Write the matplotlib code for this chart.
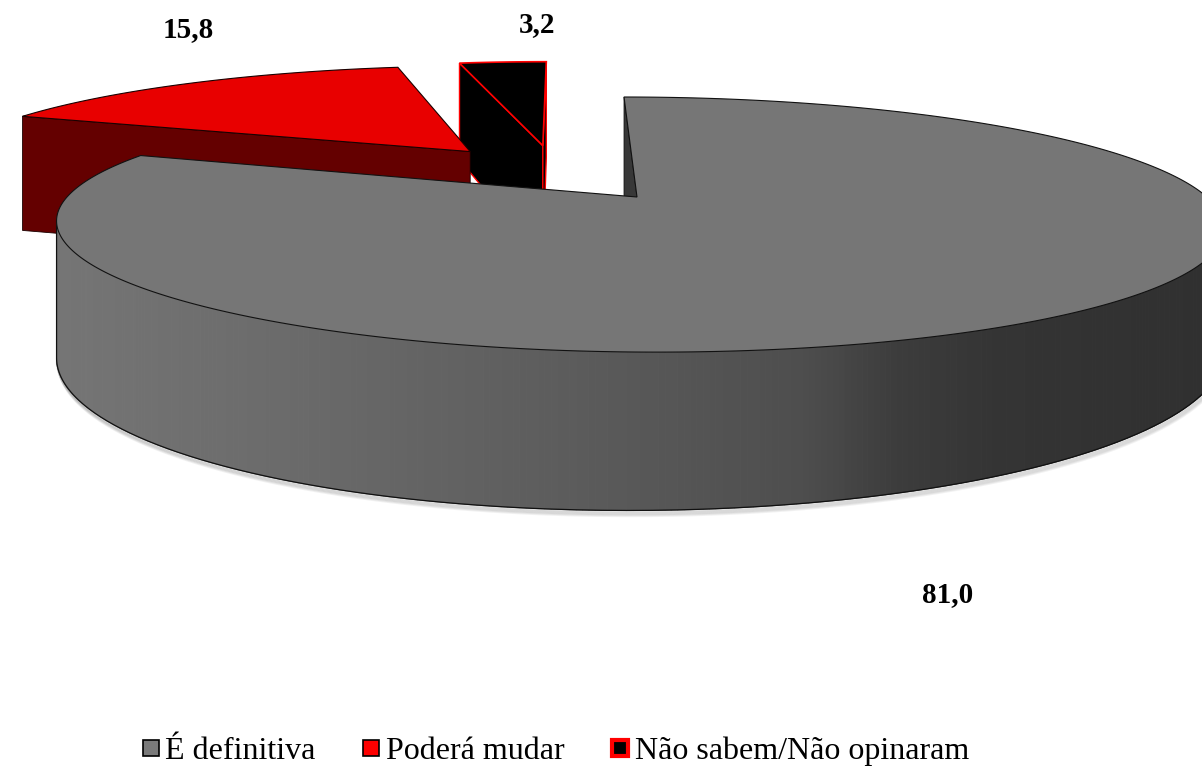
import numpy as np
import matplotlib
matplotlib.use("Agg")
import matplotlib.pyplot as plt
from matplotlib.patches import Polygon
from matplotlib.lines import Line2D

# ---------------- data ----------------
categories = ["É definitiva", "Poderá mudar", "Não sabem/Não opinaram"]
values = [81.0, 15.8, 3.2]
value_labels = ["81,0", "15,8", "3,2"]

# ---------------- styles ----------------
top_colors = ["#767676", "#E80000", "#000000"]
side_colors = [None, "#640000", "#000000"]      # None -> gradient
radial_colors = ["#383838", "#640000", "#000000"]
edge_colors = ["#111111", "#1a0000", "#FF0000"]
legend_face = ["#7a7a7a", "#FF0000", "#000000"]
legend_edge = ["#000000", "#000000", "#FF0000"]
legend_mew = [1.2, 1.2, 3.0]

grad_x = [60, 300, 550, 800, 900, 1000, 1210]
grad_v = [0x75, 0x6a, 0x5d, 0x4e, 0x3c, 0x34, 0x30]

W, H = 1202, 771
fig = plt.figure(figsize=(W / 100, H / 100), dpi=100)
ax = fig.add_axes([0, 0, 1, 1])
ax.set_xlim(0, W)
ax.set_ylim(H, 0)
ax.axis("off")

# ---------------- 3D projection ----------------
CX, CY, VX = 637.0, 197.0, 564.0
A, B, K, C, M = 570.0, 121.6, 0.216, 124.0, 0.06
EXPLODE = 0.255


def proj(X, Y, d):
    X = np.asarray(X, float)
    Y = np.asarray(Y, float)
    s = 1.0 / (1.0 + K * Y)
    sx = VX + (CX - VX + A * X) * s
    sy = CY + (-B * Y + d * C * (1.0 - M * X)) * s
    return np.column_stack([np.atleast_1d(sx), np.atleast_1d(sy)])


def area(p):
    x, y = p[:, 0], p[:, 1]
    return 0.5 * np.sum(x * np.roll(y, -1) - np.roll(x, -1) * y)


vals = np.array(values, float)
bounds = np.concatenate([[0.0], np.cumsum(vals / vals.sum())]) * 2 * np.pi
mids = 0.5 * (bounds[:-1] + bounds[1:])
units = np.column_stack([np.sin(mids), np.cos(mids)])
offsets = EXPLODE * (units - units[0])   # view centred on first slice's apex


def grey_at(x):
    v = np.interp(x, grad_x, grad_v) / 255.0
    return (v, v, v)


# draw order: farthest slice first
depth = [offsets[i, 1] + np.cos(mids[i]) * 0.5 for i in range(len(vals))]
order = np.argsort(depth)[::-1]

for i in order:
    t1, t2 = bounds[i], bounds[i + 1]
    n = max(12, int(np.degrees(t2 - t1) * 2))
    th = np.linspace(t1, t2, n)
    ox, oy = offsets[i]
    X = np.sin(th) + ox
    Y = np.cos(th) + oy
    topA = proj(X, Y, 0)
    botA = proj(X, Y, 1)
    apT = proj(ox, oy, 0)[0]
    apB = proj(ox, oy, 1)[0]
    ec = edge_colors[i]

    # radial faces
    q1 = np.array([apT, topA[0], botA[0], apB])
    if area(q1) < 0:
        ax.add_patch(Polygon(q1, closed=True, facecolor=radial_colors[i],
                             edgecolor=ec, lw=1.0 if i == 2 else 0.6, zorder=2))
    q2 = np.array([topA[-1], apT, apB, botA[-1]])
    if area(q2) < 0:
        ax.add_patch(Polygon(q2, closed=True, facecolor=radial_colors[i],
                             edgecolor=ec, lw=1.0 if i == 2 else 0.6, zorder=2))

    # outer curved side
    vis = []
    for j in range(n - 1):
        q = np.array([topA[j], topA[j + 1], botA[j + 1], botA[j]])
        vis.append(area(q) < 0)
    vis = np.array(vis)
    if vis.any():
        idx = np.where(vis)[0]
        j0, j1 = idx.min(), idx.max() + 1
        # soft shadow under the bottom edge
        bpts = botA[j0:j1 + 1]
        for k in range(1, 7):
            ax.plot(bpts[:, 0] + 0.3 * k, bpts[:, 1] + k * 0.9,
                    color="#000000", alpha=0.05, lw=2.0, zorder=1,
                    solid_capstyle="round")
        for j in idx:
            q = np.array([topA[j], topA[j + 1], botA[j + 1], botA[j]])
            if side_colors[i] is None:
                col = grey_at(q[:, 0].mean())
            else:
                col = side_colors[i]
            ax.add_patch(Polygon(q, closed=True, facecolor=col, edgecolor=col,
                                 lw=0.8, zorder=2))
        outline = np.vstack([topA[j0:j1 + 1][:1], bpts, topA[j1:j1 + 1]])
        ax.plot(outline[:, 0], outline[:, 1], color=ec, lw=0.9, zorder=3)

    # top face
    topface = np.vstack([apT, topA])
    ax.add_patch(Polygon(topface, closed=True, facecolor=top_colors[i],
                         edgecolor=ec, lw=1.2 if i == 2 else 0.8, zorder=4))

# ---------------- data labels ----------------
label_pos = [(948, 602), (188, 37), (537, 32)]
for txt, (lx, ly) in zip(value_labels, label_pos):
    ax.text(lx, ly, txt, ha="center", va="baseline", fontsize=21,
            fontweight="bold", family="Liberation Serif", color="black",
            zorder=6)

# ---------------- legend ----------------
handles = [Line2D([], [], linestyle="none", marker="s", markersize=11.5 if k < 2 else 11,
                  markerfacecolor=legend_face[k], markeredgecolor=legend_edge[k],
                  markeredgewidth=legend_mew[k])
           for k in range(len(categories))]
fig.legend(handles, categories, loc="center", ncol=3,
           bbox_to_anchor=(555 / W, 1 - 751 / H), frameon=False,
           prop={"family": "Liberation Serif", "size": 23},
           handlelength=0.6, handletextpad=0.15, columnspacing=1.45,
           borderpad=0.0)

fig.savefig("out.png", dpi=100, facecolor="white")
